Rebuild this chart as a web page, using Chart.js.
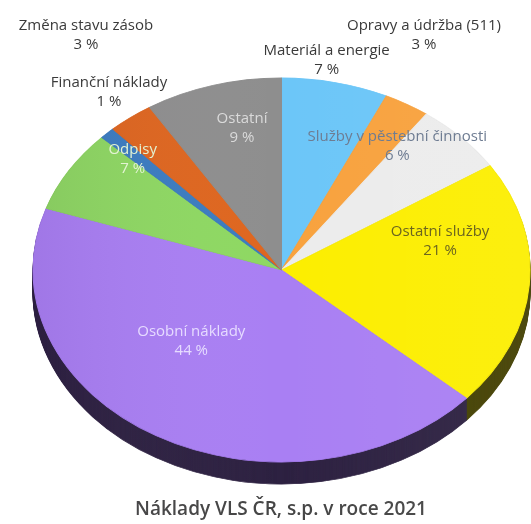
<!DOCTYPE html>
<html>
<head>
<meta charset="utf-8">
<script src="https://cdn.jsdelivr.net/npm/chart.js@4"></script>
<style>
    html, body { margin: 0; padding: 0; background: #fff; }
    #wrap { width: 531px; height: 524px; }
</style>
</head>
<body>
<div id="wrap"><canvas id="costChart" width="531" height="524"></canvas></div>
<script>
const categories = ['Materiál a energie', 'Opravy a údržba (511)', 'Služby v pěstební činnosti', 'Ostatní služby', 'Osobní náklady', 'Odpisy', 'Finanční náklady', 'Změna stavu zásob', 'Ostatní'];
const shares = [7, 3, 6, 21, 44, 7, 1, 3, 9];
const sliceColors = ['#6cc6f8', '#f8a23e', '#ececec', '#fcee00', '#a97ff3', '#8ed862', '#3b7cc0', '#de661f', '#8e8e8e'];
const chartTitle = 'Náklady VLS ČR, s.p. v roce 2021';

// where the tilted pie sits on the page
const pieView = { cx: 281.5, cy: 270, rx: 248.5, ry: 192, depth: 22 };

// label placement: radius factor along the slice middle + nudge
const labelStyle = [
    { f: 1.12, dx: -15, dy: 0, color: '#3a3a3a' },
    { f: 1.4, dx: -33, dy: -3, color: '#3a3a3a' },
    { f: 0.75, dx: -19, dy: -24, color: '#6e7c92' },
    { f: 0.64, dx: 0, dy: -38, color: '#6b6520' },
    { f: 0.6, dx: -15, dy: -28, color: '#e6dbff' },
    { f: 0.7, dx: 0, dy: -41, color: '#e3f3d3' },
    { f: 1.15, dx: 28, dy: -20, color: '#3a3a3a' },
    { f: 1.5, dx: 31, dy: -6, color: '#3a3a3a' },
    { f: 0.75, dx: 12, dy: -3, color: '#dadada' }
];

function shade(hex, f) {
    const n = parseInt(hex.slice(1), 16);
    const r = Math.round(((n >> 16) & 255) * f);
    const g = Math.round(((n >> 8) & 255) * f);
    const b = Math.round((n & 255) * f);
    return 'rgb(' + r + ',' + g + ',' + b + ')';
}

function ellipseTransform(ctx, arc, dy) {
    const r = arc.outerRadius;
    ctx.translate(pieView.cx, pieView.cy + dy);
    ctx.scale(pieView.rx / r, pieView.ry / r);
    ctx.translate(-arc.x, -arc.y);
}

const tiltPlugin = {
    id: 'tilt',
    beforeDatasetsDraw(chart) {
        const ctx = chart.ctx;
        const arcs = chart.getDatasetMeta(0).data;
        // side of the pie, stacked copies in darker colours
        for (let t = pieView.depth; t > 0; t--) {
            ctx.save();
            ellipseTransform(ctx, arcs[0], t);
            arcs.forEach((arc, i) => {
                const saved = arc.options;
                const dark = shade(sliceColors[i], 0.27);
                arc.options = Object.assign({}, saved, { backgroundColor: dark, borderColor: dark });
                arc.draw(ctx);
                arc.options = saved;
            });
            ctx.restore();
        }
        ctx.save();
        ellipseTransform(ctx, arcs[0], 0);
    },
    afterDatasetsDraw(chart) {
        const ctx = chart.ctx;
        ctx.restore();

        // soft light from the right over the whole pie
        ctx.save();
        ctx.globalCompositeOperation = 'source-atop';
        const g = ctx.createLinearGradient(pieView.cx - pieView.rx, 0, pieView.cx + pieView.rx, 0);
        g.addColorStop(0, 'rgba(40,10,60,0.07)');
        g.addColorStop(0.5, 'rgba(255,255,255,0)');
        g.addColorStop(1, 'rgba(255,255,255,0.06)');
        ctx.fillStyle = g;
        ctx.fillRect(0, 0, chart.width, chart.height);
        ctx.restore();

        const arcs = chart.getDatasetMeta(0).data;
        ctx.save();
        ctx.font = '15px "Open Sans"';
        ctx.textAlign = 'center';
        ctx.textBaseline = 'middle';
        arcs.forEach((arc, i) => {
            const s = labelStyle[i];
            const mid = (arc.startAngle + arc.endAngle) / 2;
            const x = pieView.cx + pieView.rx * s.f * Math.cos(mid) + s.dx;
            const y = pieView.cy + pieView.ry * s.f * Math.sin(mid) + s.dy;
            ctx.fillStyle = s.color;
            ctx.fillText(categories[i], x, y - 9.5);
            ctx.fillText(shares[i] + ' %', x, y + 9.5);
        });
        ctx.restore();
    }
};

new Chart(document.getElementById('costChart'), {
    type: 'pie',
    data: {
        labels: categories,
        datasets: [{
            data: shares,
            backgroundColor: sliceColors,
            borderColor: sliceColors,
            borderWidth: 1
        }]
    },
    options: {
        responsive: false,
        animation: false,
        layout: { padding: { left: 31, right: 0, top: 0, bottom: 0 } },
        plugins: {
            legend: { display: false },
            tooltip: { enabled: false },
            title: {
                display: true,
                text: chartTitle,
                position: 'bottom',
                color: '#454545',
                font: { family: 'Open Sans', size: 19, weight: '600' },
                padding: { top: 10, bottom: 3 }
            }
        }
    },
    plugins: [tiltPlugin]
});
</script>
</body>
</html>
